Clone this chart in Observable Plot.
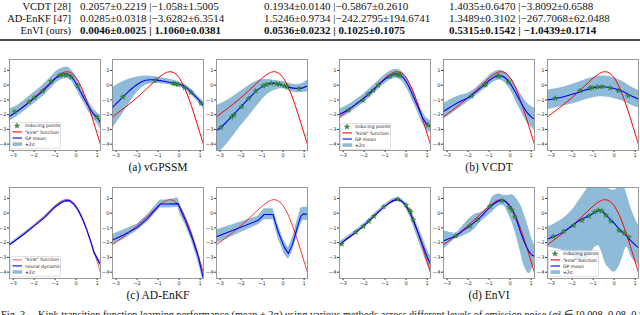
<!DOCTYPE html>
<html><head><meta charset="utf-8">
<script src="https://cdn.jsdelivr.net/npm/d3@7"></script>
<script src="https://cdn.jsdelivr.net/npm/@observablehq/plot@0.6"></script>
<style>
html,body{margin:0;padding:0;background:#fff;}
#root{position:relative;width:640px;height:315px;overflow:hidden;background:#fff;}
#root svg{position:absolute;}
</style></head>
<body><div id="root"></div>
<script>
// ---------- table ----------
const tableMethods = ["VCDT [28]", "AD-EnKF [47]", "EnVI (ours)"];
const tableCol1 = ["0.2057\u00B10.2219 |\u22121.058\u00B11.5005", "0.0285\u00B10.0318 |\u22123.6282\u00B16.3514", "0.0046\u00B10.0025 | 1.1060\u00B10.0381"];
const tableCol2 = ["0.1934\u00B10.0140 |\u22120.5867\u00B10.2610", "1.5246\u00B10.9734 |\u2212242.2795\u00B1194.6741", "0.0536\u00B10.0232 | 0.1025\u00B10.1075"];
const tableCol3 = ["1.4035\u00B10.6470 |\u22123.8092\u00B10.6588", "1.3489\u00B10.3102 |\u2212267.7068\u00B162.0488", "0.5315\u00B10.1542 | \u22121.0439\u00B10.1714"];
const subCaptions = ["(a) vGPSSM", "(b) VCDT", "(c) AD-EnKF", "(d) EnVI"];
const figCaption = "Fig. 3.\u2003Kink transition function learning performance (mean \u00B1 2\u03C3) using various methods across different levels of emission noise (\u03C3\u00B2 \u2208 [0.008, 0.08, 0.8])";

// ---------- axes ----------
const xTicks = [-3, -2, -1, 0, 1];
const yTicks = [-4, -3, -2, -1, 0, 1];

// ---------- "kink" function ----------
const kinkX = [-3.17,-3.0,-2.8,-2.6,-2.4,-2.2,-2.0,-1.8,-1.6,-1.4,-1.2,-1.0,-0.8,-0.6,-0.5,-0.4,-0.3,-0.2,-0.1,0.0,0.1,0.2,0.3,0.4,0.5,0.6,0.7,0.8,0.9,1.0,1.1,1.16];
const kinkY = [-2.144,-1.965,-1.752,-1.534,-1.310,-1.079,-0.838,-0.587,-0.326,-0.056,0.216,0.477,0.704,0.863,0.904,0.910,0.877,0.800,0.675,0.500,0.275,0.002,-0.314,-0.670,-1.059,-1.474,-1.910,-2.360,-2.820,-3.285,-3.752,-4.032];

// ---------- (a) vGPSSM ----------
const a1_x    = [-3.17,-2.8,-2.4,-2.0,-1.6,-1.2,-0.9,-0.6,-0.4,-0.2,0.0,0.2,0.4,0.6,0.8,1.0,1.16];
const a1_mean = [-2.1,-1.78,-1.35,-0.9,-0.42,0.15,0.55,0.74,0.76,0.55,0.1,-0.42,-0.95,-1.45,-1.9,-2.2,-2.55];
const a1_lo   = [-2.45,-2.12,-1.7,-1.25,-0.78,-0.22,0.2,0.42,0.45,0.25,-0.25,-0.8,-1.3,-1.8,-2.25,-2.6,-3.0];
const a1_hi   = [-1.62,-1.38,-0.95,-0.5,-0.02,0.55,0.98,1.18,1.22,1.0,0.55,-0.05,-0.6,-1.1,-1.55,-1.85,-2.05];
const a1_indX = [-2.92,-2.23,-1.98,-1.58,-1.19,-0.77,-0.61,-0.45,-0.23,0.08,1.0];
const a1_indY = [-1.8,-1.13,-0.86,-0.41,0.26,0.66,0.71,0.68,0.53,-0.05,-2.16];

const a2_x    = [-3.17,-2.8,-2.4,-2.0,-1.6,-1.2,-0.8,-0.4,0.0,0.3,0.6,0.9,1.16];
const a2_mean = [-1.5,-0.98,-0.42,0.05,0.33,0.36,0.28,0.18,0.06,-0.12,-0.5,-0.95,-1.35];
const a2_lo   = [-2.95,-2.2,-1.3,-0.5,0.0,0.1,0.08,0.0,-0.1,-0.3,-0.7,-1.15,-1.6];
const a2_hi   = [-0.15,0.15,0.4,0.55,0.62,0.58,0.48,0.38,0.22,0.02,-0.3,-0.75,-1.1];
const a2_indX = [-2.68,-1.13,-0.28,-0.16,-0.05,0.26,0.57,1.04];
const a2_indY = [-0.8,0.33,0.1,0.08,0.04,-0.19,-0.5,-1.24];

const a3_x    = [-3.17,-2.8,-2.4,-2.0,-1.6,-1.2,-0.8,-0.4,0.0,0.3,0.6,0.9,1.16];
const a3_mean = [-3.08,-2.65,-2.05,-1.45,-0.85,-0.3,0.05,0.12,-0.02,-0.15,-0.22,-0.2,-0.05];
const a3_lo   = [-4.7,-4.2,-3.5,-2.75,-2.05,-1.35,-0.7,-0.35,-0.25,-0.4,-0.5,-0.5,-0.45];
const a3_hi   = [-1.4,-1.15,-0.8,-0.4,0.0,0.3,0.38,0.32,0.25,0.12,0.05,0.1,0.35];
const a3_indX = [-2.96,-2.45,-2.34,-1.98,-1.64,-1.3,-0.95,-0.79,-0.56,-0.33,-0.17,0.06,0.19,0.76];
const a3_indY = [-2.88,-2.17,-2.03,-1.47,-0.91,-0.39,-0.05,0.04,0.13,0.1,0.06,-0.05,-0.1,-0.23];

// ---------- (b) VCDT ----------
const b1_x    = [-3.17,-2.8,-2.4,-2.0,-1.6,-1.2,-0.9,-0.6,-0.4,-0.2,0.0,0.2,0.4,0.6,0.8,1.0,1.16];
const b1_mean = [-1.98,-1.7,-1.3,-0.88,-0.38,0.17,0.52,0.74,0.75,0.6,0.25,-0.3,-0.95,-1.6,-2.25,-2.65,-2.8];
const b1_lo   = [-2.3,-2.0,-1.6,-1.18,-0.68,-0.13,0.22,0.44,0.45,0.28,-0.12,-0.7,-1.35,-2.0,-2.65,-3.05,-3.2];
const b1_hi   = [-1.62,-1.38,-1.0,-0.58,-0.08,0.47,0.82,1.04,1.06,0.92,0.6,0.08,-0.55,-1.2,-1.85,-2.25,-2.4];
const b1_indX = [-2.74,-2.06,-1.8,-1.56,-1.32,-0.77,-0.54,-0.38,-0.3,1.04];
const b1_indY = [-1.7,-1.03,-0.62,-0.35,0.0,0.59,0.73,0.71,0.66,-2.72];

const b2_x    = [-3.17,-2.8,-2.4,-2.0,-1.6,-1.2,-0.9,-0.6,-0.4,-0.2,0.0,0.2,0.4,0.6,0.8,1.0,1.16];
const b2_mean = [-1.78,-1.45,-1.12,-0.85,-0.42,0.05,0.42,0.64,0.63,0.45,0.12,-0.35,-0.88,-1.4,-1.85,-2.15,-2.3];
const b2_lo   = [-2.3,-1.95,-1.55,-1.15,-0.7,-0.25,0.1,0.32,0.3,0.1,-0.3,-0.85,-1.45,-2.0,-2.5,-2.85,-3.05];
const b2_hi   = [-1.25,-0.95,-0.7,-0.55,-0.15,0.35,0.75,0.98,1.0,0.85,0.55,0.15,-0.35,-0.8,-1.2,-1.45,-1.55];
const b2_indX = [-1.83,-1.21,-1.16,-0.59,-0.51,-0.08];
const b2_indY = [-0.74,0.01,0.05,0.62,0.62,0.21];

const b3_x    = [-3.17,-2.8,-2.4,-2.0,-1.6,-1.2,-0.8,-0.4,0.0,0.4,0.8,1.16];
const b3_mean = [-1.0,-0.9,-0.78,-0.62,-0.44,-0.25,-0.13,-0.12,-0.22,-0.42,-0.72,-0.95];
const b3_lo   = [-1.65,-1.55,-1.42,-1.28,-1.1,-0.92,-0.8,-0.8,-0.9,-1.08,-1.35,-1.55];
const b3_hi   = [-0.35,-0.25,-0.12,0.05,0.25,0.45,0.6,0.62,0.5,0.25,-0.1,-0.35];
const b3_indX = [-2.8,-1.63,-1.16,-1.05,-0.81,-0.58,-0.19,0.2,0.67];
const b3_indY = [-0.89,-0.38,-0.22,-0.17,-0.13,-0.1,-0.19,-0.38,-0.71];

// ---------- (c) AD-EnKF ----------
const c1_x    = [-3.17,-2.5,-2.0,-1.5,-1.0,-0.7,-0.5,-0.3,-0.1,0.1,0.3,0.5,0.7,0.85,1.0,1.1,1.16];
const c1_mean = [-2.15,-1.45,-0.88,-0.3,0.42,0.72,0.85,0.83,0.6,0.2,-0.38,-1.1,-1.95,-2.65,-3.05,-3.35,-3.42];
const c1_lo   = [-2.25,-1.55,-0.98,-0.4,0.32,0.62,0.75,0.73,0.5,0.1,-0.48,-1.2,-2.05,-2.78,-3.2,-3.55,-3.6];
const c1_hi   = [-2.05,-1.35,-0.78,-0.2,0.52,0.82,0.95,0.93,0.7,0.3,-0.28,-1.0,-1.85,-2.52,-2.9,-3.15,-3.25];

const c2_x    = [-3.17,-2.6,-2.0,-1.5,-0.9,-0.5,-0.05,0.05,0.3,0.6,0.9,1.16];
const c2_mean = [-1.82,-1.45,-0.98,-0.35,0.62,0.62,0.65,0.3,-0.5,-1.6,-2.9,-4.45];
const c2_lo   = [-2.15,-1.75,-1.2,-0.6,0.35,0.35,0.4,-0.1,-0.8,-1.9,-3.3,-4.7];
const c2_hi   = [-1.45,-1.1,-0.75,-0.1,0.9,0.9,1.05,0.6,-0.2,-1.2,-2.5,-4.0];

const c3_x    = [-3.17,-1.2,-0.9,-0.48,-0.25,0.05,0.25,0.45,0.65,0.84,0.96,1.16];
const c3_mean = [-1.6,-0.5,-0.09,-0.09,-1.2,-2.3,-2.73,-2.1,-1.1,-0.2,-0.05,-0.08];
const c3_lo   = [-2.05,-0.8,-0.45,-0.45,-1.65,-2.75,-3.15,-2.55,-1.6,-0.75,-0.5,-0.5];
const c3_hi   = [-1.15,-0.22,0.3,0.3,-0.75,-1.9,-2.35,-1.65,-0.6,0.35,0.4,0.4];

// ---------- (d) EnVI ----------
const d1_x    = [-3.17,-2.8,-2.4,-2.0,-1.6,-1.2,-0.8,-0.6,-0.4,-0.2,0.0,0.2,0.4,0.6,0.8,1.0,1.16];
const d1_mean = [-2.12,-1.72,-1.3,-0.84,-0.3,0.22,0.68,0.85,0.92,0.8,0.48,-0.02,-0.72,-1.45,-2.2,-2.95,-3.45];
const d1_lo   = [-2.27,-1.86,-1.44,-0.98,-0.44,0.08,0.53,0.7,0.8,0.65,0.28,-0.3,-1.1,-1.9,-2.7,-3.47,-4.0];
const d1_hi   = [-1.97,-1.58,-1.16,-0.7,-0.16,0.36,0.83,1.0,1.04,0.95,0.68,0.26,-0.34,-1.0,-1.7,-2.43,-2.9];
const d1_indX = [-3.06,-2.39,-2.03,-1.77,-1.53,-1.06,-0.39,0.0,0.16,0.22,0.34];
const d1_indY = [-2.1,-1.3,-0.9,-0.56,-0.22,0.43,0.95,0.54,0.2,0.08,-0.45];

const d2_x    = [-3.17,-2.9,-2.6,-2.3,-2.0,-1.7,-1.4,-1.1,-0.8,-0.5,-0.3,-0.1,0.1,0.3,0.5,0.7,0.9,1.05,1.16];
const d2_mean = [-1.88,-1.72,-1.55,-1.25,-0.95,-0.62,-0.25,0.2,0.6,0.85,0.85,0.62,0.2,-0.45,-1.3,-2.05,-2.6,-2.85,-2.9];
const d2_lo   = [-2.45,-2.1,-1.75,-1.6,-1.4,-1.1,-0.6,-0.25,0.15,0.5,0.5,0.0,-0.65,-1.6,-2.7,-3.7,-4.1,-3.8,-3.55];
const d2_hi   = [-1.2,-1.3,-1.35,-0.95,-0.45,-0.1,0.05,0.35,1.15,1.3,1.2,1.2,1.25,1.0,0.55,-0.2,-1.1,-1.8,-2.15];
const d2_indX = [-2.58,-1.92,-1.55,-0.95,-0.38,-0.03,0.08,0.23];
const d2_indY = [-1.56,-0.88,-0.45,0.45,0.85,0.4,0.2,-0.25];

const d3_x    = [-3.17,-2.8,-2.4,-2.0,-1.6,-1.2,-0.9,-0.75,-0.6,-0.4,-0.2,0.0,0.2,0.4,0.6,0.8,1.0,1.16];
const d3_mean = [-1.75,-1.55,-1.25,-0.85,-0.45,-0.17,0.06,0.19,0.15,-0.08,-0.4,-0.68,-1.02,-1.3,-1.58,-1.88,-2.15,-2.35];
const d3_lo   = [-2.3,-2.4,-2.55,-2.9,-3.35,-2.95,-2.3,-2.2,-2.6,-3.45,-3.8,-4.0,-3.7,-3.0,-2.3,-2.9,-3.3,-3.5];
const d3_hi   = [-0.95,-0.7,-0.35,0.2,1.0,1.8,2.2,2.3,2.3,1.9,1.6,1.55,1.75,2.0,1.3,0.35,-0.35,-0.85];
const d3_indX = [-2.89,-2.39,-1.92,-1.53,-1.2,-0.94,-0.75,-0.58,-0.39,-0.16,0.23,0.47,0.7];
const d3_indY = [-1.58,-1.24,-0.83,-0.49,-0.2,0.07,0.19,0.14,-0.15,-0.54,-1.17,-1.35,-1.62];

// ---------- layout ----------
const root = document.getElementById("root");
const FW = 91, FH = 91, ML = 12, MR = 3, MT = 2, MB = 10;
const X_DOMAIN = [-3.17, 1.16], Y_DOMAIN = [-4.43, 1.74];
const colsX = [9, 112, 216, 339, 443, 547];
const rowsY = [59, 187];
const fmt = d => d < 0 ? "\u2212" + Math.abs(d) : String(d);

// background text layer
const bg = d3.select(root).append("svg").attr("width", 640).attr("height", 315)
  .style("left", "0px").style("top", "0px");
const serif = "'Liberation Serif','Times New Roman',serif";
const rowBase = [9.5, 21.5, 33.5];
tableMethods.forEach((m, i) => {
  const bold = i === 2;
  bg.append("text").attr("x", 71).attr("y", rowBase[i]).attr("text-anchor", "end")
    .attr("font-family", serif).attr("font-size", 10.5).attr("fill", "#111").text(m);
  [[tableCol1, 80], [tableCol2, 264], [tableCol3, 449]].forEach(([col, x0]) => {
    bg.append("text").attr("x", x0).attr("y", rowBase[i])
      .attr("font-family", serif).attr("font-size", 11)
      .attr("font-weight", bold ? "bold" : "normal").attr("fill", "#111").text(col[i]);
  });
});
bg.append("line").attr("x1", 0).attr("x2", 640).attr("y1", 40).attr("y2", 40)
  .attr("stroke", "#111").attr("stroke-width", 1.4);
const capPos = [[158, 171], [489, 171], [158, 299], [489, 299]];
subCaptions.forEach((c, i) => {
  bg.append("text").attr("x", capPos[i][0]).attr("y", capPos[i][1]).attr("text-anchor", "middle")
    .attr("font-family", serif).attr("font-size", 11.5).attr("fill", "#111").text(c);
});
bg.append("text").attr("x", 1).attr("y", 318).attr("font-family", serif).attr("font-size", 10.5)
  .attr("fill", "#111").attr("textLength", 650).attr("lengthAdjust", "spacingAndGlyphs").text(figCaption);

const kinkData = kinkX.map((x, i) => ({x, y: kinkY[i]}));

function panel(col, row, xs, mean, lo, hi, indX, indY, opts = {}) {
  const band = xs.map((x, i) => ({x, m: mean[i], lo: lo[i], hi: hi[i]}));
  const ind = (indX || []).map((x, i) => ({x, y: indY[i]}));
  const curve = opts.linear ? "linear" : "catmull-rom";
  const chart = Plot.plot({
    width: FW + ML + MR, height: FH + MT + MB,
    marginLeft: ML, marginRight: MR, marginTop: MT, marginBottom: MB,
    style: {fontSize: "5.2px", fontFamily: "'DejaVu Sans', sans-serif", color: "#333", background: "transparent", overflow: "visible"},
    x: {domain: X_DOMAIN, ticks: xTicks, tickFormat: fmt, tickSize: 2, tickPadding: 1, label: null},
    y: {domain: Y_DOMAIN, ticks: yTicks, tickFormat: fmt, tickSize: 2, tickPadding: 1, label: null},
    marks: [
      Plot.areaY(band, {x: "x", y1: "lo", y2: "hi", fill: "#1f77b4", fillOpacity: 0.5, curve, clip: true}),
      Plot.line(kinkData, {x: "x", y: "y", stroke: "#ff0000", strokeOpacity: opts.kinkOpacity || 1, strokeWidth: 1, curve: "catmull-rom", clip: true}),
      Plot.line(band, {x: "x", y: "m", stroke: "#0000ff", strokeWidth: 1.1, curve, clip: true}),
      Plot.dot(ind, {x: "x", y: "y", symbol: "star", r: 1.6, fill: "#2ca02c", stroke: "#1e5a1e", strokeWidth: 0.4, clip: true}),
      Plot.frame({stroke: "#808080", strokeWidth: 0.8})
    ]
  });
  chart.style.position = "absolute";
  chart.style.left = (colsX[col] - ML) + "px";
  chart.style.top = (rowsY[row] - MT) + "px";
  root.appendChild(chart);
}

function legend(col, row, dy, entries) {
  const w = 50, step = 6.1, h = entries.length * step + 1.5;
  const svg = d3.select(root).append("svg").attr("width", w + 2).attr("height", h + 2)
    .style("left", (colsX[col] + 1) + "px").style("top", (rowsY[row] + dy) + "px");
  svg.append("rect").attr("x", 0.5).attr("y", 0.5).attr("width", w).attr("height", h).attr("rx", 1.5)
    .attr("fill", "#fff").attr("fill-opacity", 0.8).attr("stroke", "#cccccc").attr("stroke-width", 0.6);
  entries.forEach((e, i) => {
    const cy = 3.8 + i * step;
    if (e.type === "star") {
      svg.append("path").attr("d", d3.symbol(d3.symbolStar, 9)()).attr("transform", `translate(7,${cy})`)
        .attr("fill", "#2ca02c").attr("stroke", "#1e5a1e").attr("stroke-width", 0.4);
    } else if (e.type === "line") {
      svg.append("line").attr("x1", 2.5).attr("x2", 12).attr("y1", cy).attr("y2", cy)
        .attr("stroke", e.color).attr("stroke-opacity", e.opacity || 1).attr("stroke-width", 1.1);
    } else {
      svg.append("rect").attr("x", 2.5).attr("y", cy - 1.8).attr("width", 9.5).attr("height", 3.6)
        .attr("fill", "#1f77b4").attr("fill-opacity", 0.5);
    }
    svg.append("text").attr("x", 15).attr("y", cy + 1.6).attr("font-family", "'DejaVu Sans', sans-serif")
      .attr("font-size", 4.6).attr("fill", "#222").text(e.label);
  });
}

panel(0, 0, a1_x, a1_mean, a1_lo, a1_hi, a1_indX, a1_indY);
panel(1, 0, a2_x, a2_mean, a2_lo, a2_hi, a2_indX, a2_indY);
panel(2, 0, a3_x, a3_mean, a3_lo, a3_hi, a3_indX, a3_indY);
panel(3, 0, b1_x, b1_mean, b1_lo, b1_hi, b1_indX, b1_indY);
panel(4, 0, b2_x, b2_mean, b2_lo, b2_hi, b2_indX, b2_indY);
panel(5, 0, b3_x, b3_mean, b3_lo, b3_hi, b3_indX, b3_indY);
panel(0, 1, c1_x, c1_mean, c1_lo, c1_hi, null, null, {linear: true, kinkOpacity: 0.6});
panel(1, 1, c2_x, c2_mean, c2_lo, c2_hi, null, null, {linear: true, kinkOpacity: 0.8});
panel(2, 1, c3_x, c3_mean, c3_lo, c3_hi, null, null, {linear: true, kinkOpacity: 0.8});
panel(3, 1, d1_x, d1_mean, d1_lo, d1_hi, d1_indX, d1_indY);
panel(4, 1, d2_x, d2_mean, d2_lo, d2_hi, d2_indX, d2_indY);
panel(5, 1, d3_x, d3_mean, d3_lo, d3_hi, d3_indX, d3_indY);

const gpEntries = [
  {type: "star", label: "inducing points"},
  {type: "line", color: "#ff0000", label: "\"kink\" function"},
  {type: "line", color: "#0000ff", label: "GP mean"},
  {type: "patch", label: "\u00B12\u03C3"}
];
legend(0, 0, 63, gpEntries);
legend(3, 0, 64, gpEntries);
legend(0, 1, 69, [
  {type: "line", color: "#ff0000", opacity: 0.6, label: "\"kink\" function"},
  {type: "line", color: "#0000ff", label: "neural dynamic"},
  {type: "patch", label: "\u00B12\u03C3"}
]);
legend(5, 1, 63, gpEntries);
</script>
</body></html>
